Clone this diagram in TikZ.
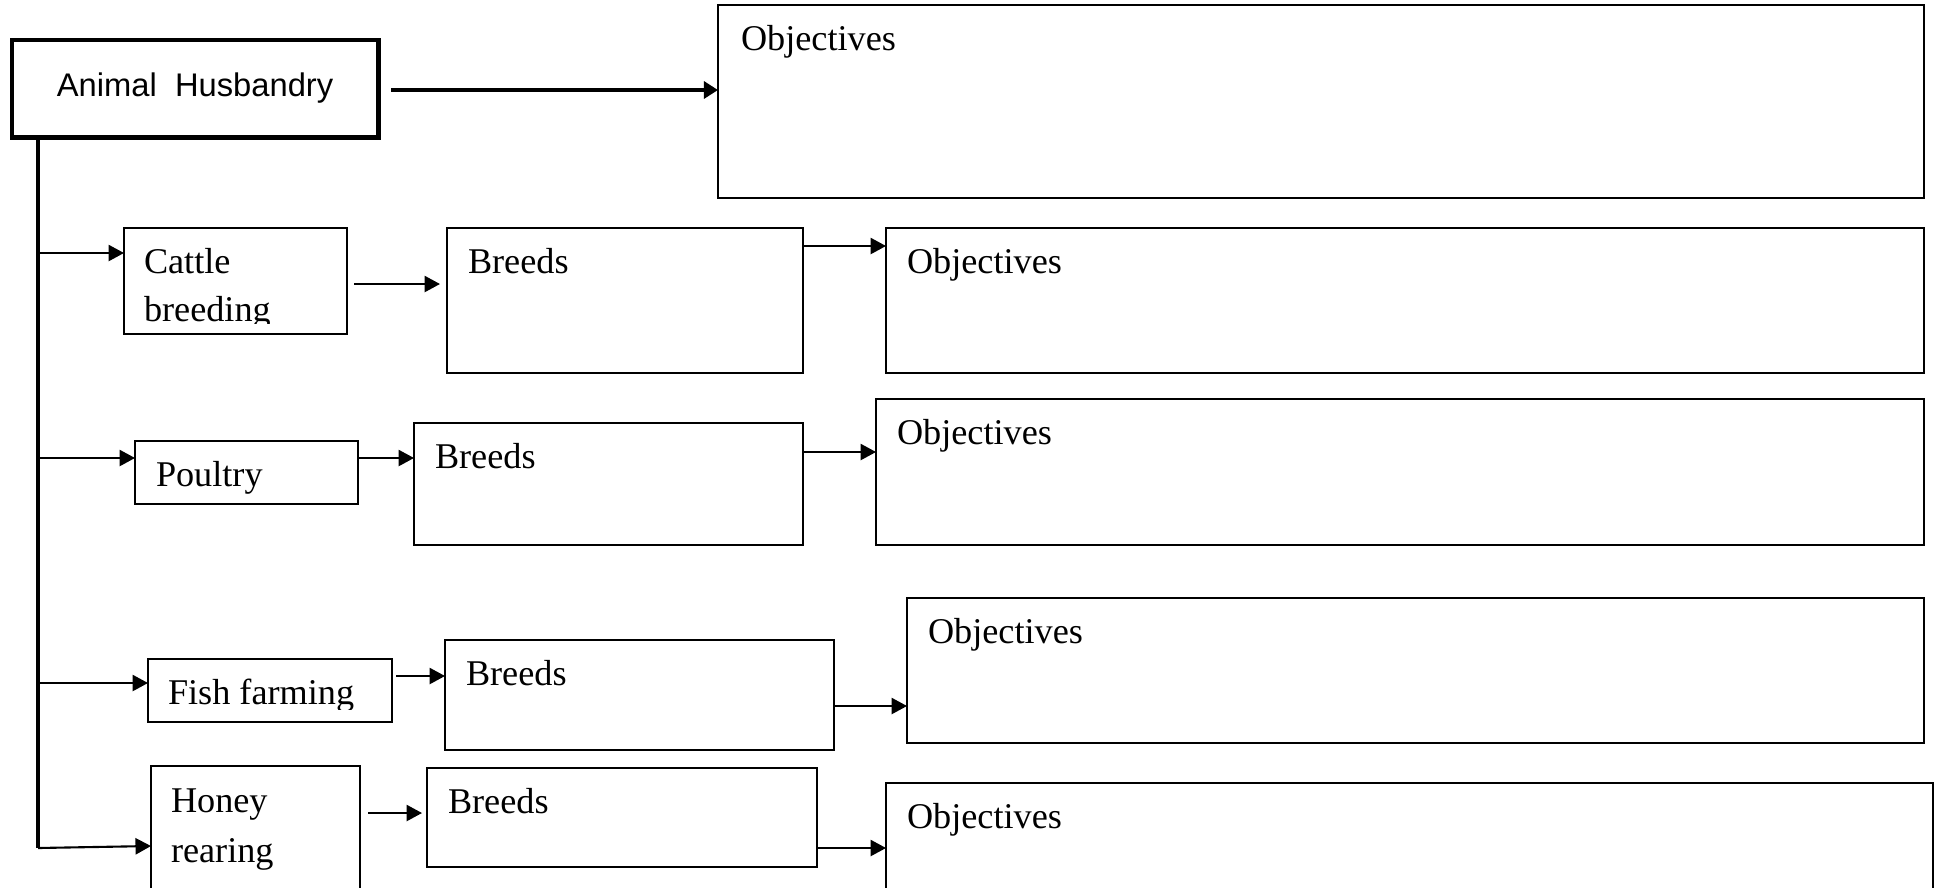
\documentclass[tikz,border=0pt]{standalone}
\usepackage{fontspec}
\setmainfont{Liberation Serif}
\newfontfamily\arialf{Liberation Sans}
\usetikzlibrary{arrows.meta}
\begin{document}
\begin{tikzpicture}[x=0.01cm,y=-0.01cm,
  box/.style={draw, line width=0.6pt, rectangle, inner sep=0pt, outer sep=0pt, anchor=north west},
  mainbox/.style={box, line width=1.4pt},
  txt/.style={anchor=base west, inner sep=0pt, outer sep=0pt, font=\fontsize{10.3}{13.7}\selectfont},
  arr/.style={-{Triangle[length=4.4pt,width=4.6pt]}, line width=0.6pt},
  arrthick/.style={-{Triangle[length=4pt,width=4.8pt]}, line width=1.1pt},
  trunkline/.style={line width=0.9pt}]
\useasboundingbox (0,0) rectangle (1942,887);
\clip (0,0) rectangle (1942,887);

% boxes
\node[mainbox, minimum width=3.66cm, minimum height=0.97cm] (ah) at (12,40) {};
\node[anchor=center, inner sep=0pt, font=\arialf\fontsize{9.3}{11}\selectfont] (aht) at (ah.center) {Animal\hspace{0.28em} Husbandry};

\node[box, minimum width=12.05cm, minimum height=1.93cm] (obj0) at (718,5) {};
\node[box, minimum width=2.23cm, minimum height=1.06cm] (cattle) at (124,228) {};
\node[box, minimum width=3.56cm, minimum height=1.45cm] (br1) at (447,228) {};
\node[box, minimum width=10.37cm, minimum height=1.45cm] (obj1) at (886,228) {};
\node[box, minimum width=2.23cm, minimum height=0.63cm] (poultry) at (135,441) {};
\node[box, minimum width=3.89cm, minimum height=1.22cm] (br2) at (414,423) {};
\node[box, minimum width=10.47cm, minimum height=1.46cm] (obj2) at (876,399) {};
\node[box, minimum width=2.44cm, minimum height=0.63cm] (fish) at (148,659) {};
\node[box, minimum width=3.89cm, minimum height=1.10cm] (br3) at (445,640) {};
\node[box, minimum width=10.16cm, minimum height=1.45cm] (obj3) at (907,598) {};
\node[box, minimum width=2.09cm, minimum height=1.34cm] (honey) at (151,766) {};
\node[box, minimum width=3.90cm, minimum height=0.99cm] (br4) at (427,768) {};
\node[box, minimum width=10.46cm, minimum height=1.17cm] (obj4) at (886,783) {};

% texts
\node[txt] (t0) at ([shift={(23,45)}]obj0.north west) {Objectives};
\node[txt] (t1) at ([shift={(21,45)}]obj1.north west) {Objectives};
\node[txt] (t2) at ([shift={(21,45)}]obj2.north west) {Objectives};
\node[txt] (t3) at ([shift={(21,45)}]obj3.north west) {Objectives};
\node[txt] (t4) at ([shift={(21,45)}]obj4.north west) {Objectives};
\node[txt] (b1) at ([shift={(21,45)}]br1.north west) {Breeds};
\node[txt] (b2) at ([shift={(21,45)}]br2.north west) {Breeds};
\node[txt] (b3) at ([shift={(21,45)}]br3.north west) {Breeds};
\node[txt] (b4) at ([shift={(21,45)}]br4.north west) {Breeds};
\node[txt] (c1) at ([shift={(20,45)}]cattle.north west) {Cattle};
\begin{scope}
  \clip (124,228) rectangle (347,323);
  \node[txt] (c2) at ([shift={(20,93)}]cattle.north west) {breeding};
\end{scope}
\node[txt] (p1) at ([shift={(21,45)}]poultry.north west) {Poultry};
\begin{scope}
  \clip (148,659) rectangle (392,709);
  \node[txt] (f1) at ([shift={(20,45)}]fish.north west) {Fish farming};
\end{scope}
\node[txt] (h1) at ([shift={(20,46)}]honey.north west) {Honey};
\node[txt] (h2) at ([shift={(20,96)}]honey.north west) {rearing};

% trunk
\coordinate (tb) at (38,848);
\coordinate (j1) at (38,253);
\coordinate (j2) at (38,458);
\coordinate (j3) at (38,683);
\draw[trunkline] (ah.south -| tb) -- (tb);

% connectors
\draw[arrthick, shorten <=0.13cm] (ah.east |- 0,90) -- (obj0.west |- 0,90);
\draw[arr] (j1) -- (cattle.west |- j1);
\draw[arr] (j2) -- (poultry.west |- j2);
\draw[arr] (j3) -- (fish.west |- j3);
\draw[arr] (tb) -- (honey.west |- 0,846);

\draw[arr, shorten <=0.07cm, shorten >=0.07cm] (cattle.east |- 0,284) -- (br1.west |- 0,284);
\draw[arr] (br1.east |- 0,246) -- (obj1.west |- 0,246);
\draw[arr] (poultry.east |- 0,458) -- (br2.west |- 0,458);
\draw[arr] (br2.east |- 0,452) -- (obj2.west |- 0,452);
\draw[arr, shorten <=0.04cm] (fish.east |- 0,676) -- (br3.west |- 0,676);
\draw[arr] (br3.east |- 0,706) -- (obj3.west |- 0,706);
\draw[arr, shorten <=0.08cm, shorten >=0.05cm] (honey.east |- 0,813) -- (br4.west |- 0,813);
\draw[arr] (br4.east |- 0,848) -- (obj4.west |- 0,848);
\end{tikzpicture}
\end{document}
